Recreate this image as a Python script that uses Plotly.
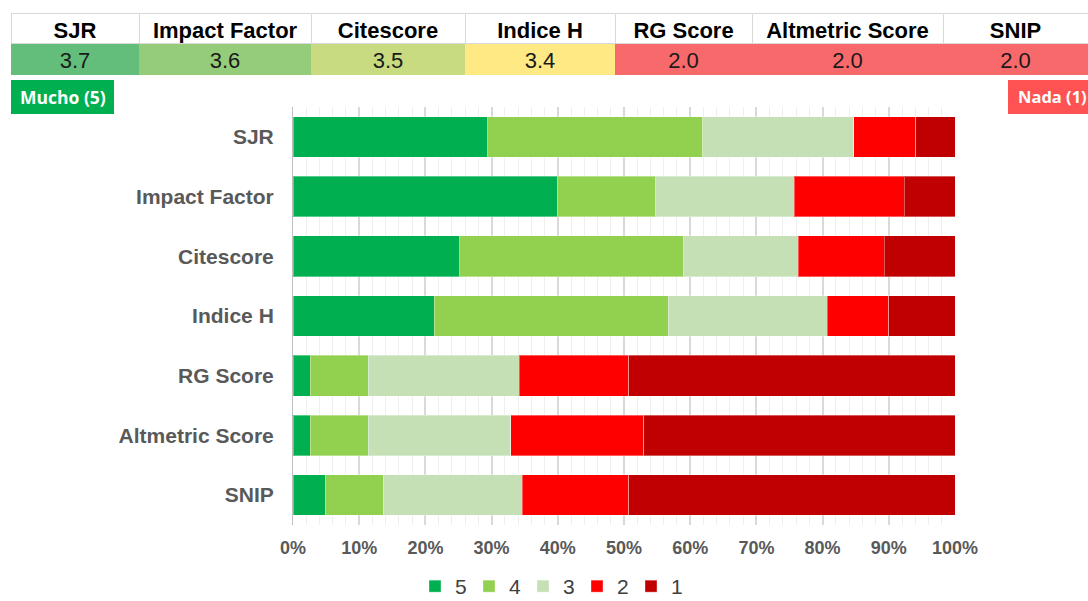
import plotly.graph_objects as go

W, H = 1088, 601


def px(xr):
    return xr / W


def py(yr):
    return 1 - yr / H


categories = ["SJR", "Impact Factor", "Citescore", "Indice H", "RG Score", "Altmetric Score", "SNIP"]
levels = ["5", "4", "3", "2", "1"]
level_colors = ["#00B050", "#92D050", "#C5E0B4", "#FF0000", "#C00000"]

# percentage shares per level
share_5 = [29.4, 39.9, 25.2, 21.3, 2.6, 2.6, 4.9]
share_4 = [32.5, 14.9, 33.8, 35.4, 8.8, 8.8, 8.7]
share_3 = [22.8, 20.9, 17.3, 24.0, 22.8, 21.5, 21.0]
share_2 = [9.4, 16.6, 13.0, 9.3, 16.5, 20.1, 16.1]
share_1 = [5.9, 7.7, 10.7, 10.0, 49.3, 47.0, 49.3]
shares = [share_5, share_4, share_3, share_2, share_1]

# summary table
table_headers = ["SJR", "Impact Factor", "Citescore", "Indice H", "RG Score", "Altmetric Score", "SNIP"]
table_means = ["3.7", "3.6", "3.5", "3.4", "2.0", "2.0", "2.0"]
table_colors = ["#63BE7B", "#95CC7A", "#C8DB80", "#FFE984", "#F8696B", "#F8696B", "#F8696B"]
table_widths = [128, 172, 154, 150, 137, 191, 145]

x_ticks = [0, 10, 20, 30, 40, 50, 60, 70, 80, 90, 100]
x_ticklabels = [f"{v}%" for v in x_ticks]

fig = go.Figure()

for lvl, col, vals in zip(levels, level_colors, shares):
    fig.add_trace(go.Bar(
        y=categories, x=vals, name=lvl, orientation="h",
        marker=dict(color=col, line=dict(color="rgba(255,255,255,0.35)", width=1)),
        hoverinfo="x+y+name",
    ))

fig.add_trace(go.Table(
    domain=dict(x=[px(11), 1.0], y=[py(76), py(13)]),
    columnwidth=table_widths,
    header=dict(
        values=table_headers,
        fill_color="white",
        line=dict(color="#D9D9D9", width=1),
        align="center",
        height=30,
        font=dict(family="Liberation Sans, Arial", size=22, color="black", weight="bold"),
    ),
    cells=dict(
        values=[[m] for m in table_means],
        fill_color=[[c] for c in table_colors],
        line=dict(color=[[c] for c in table_colors], width=1),
        align="center",
        height=31,
        font=dict(family="Liberation Sans, Arial", size=22, color="#1a1a1a"),
    ),
))

tick_font = dict(family="Liberation Sans, Arial", color="#595959", weight="bold")

fig.update_layout(
    width=W, height=H,
    margin=dict(l=0, r=0, t=0, b=0, autoexpand=False),
    paper_bgcolor="white", plot_bgcolor="white",
    barmode="stack", bargap=0.32,
    showlegend=True,
    legend=dict(
        orientation="h", x=px(550), xanchor="center", y=-6 / H, yanchor="bottom",
        font=dict(family="Liberation Sans, Arial", size=21, color="#404040"),
        traceorder="normal", itemwidth=30, entrywidth=9,
        tracegroupgap=0,
    ),
    xaxis=dict(
        domain=[px(293), px(955)], range=[0, 100],
        tickvals=x_ticks, ticktext=x_ticklabels,
        showgrid=True, gridcolor="#D9D9D9", gridwidth=1.5,
        minor=dict(dtick=2, showgrid=True, gridcolor="#EFEFEF", gridwidth=1),
        zeroline=False, showline=False, ticks="",
        ticklabelstandoff=10, automargin=False,
        tickfont=dict(size=18, **tick_font),
        fixedrange=True,
    ),
    yaxis=dict(
        domain=[py(525), py(107)],
        categoryorder="array", categoryarray=categories, autorange="reversed",
        showgrid=False, zeroline=False,
        showline=True, linecolor="#BFBFBF", linewidth=1,
        ticks="", ticklabelstandoff=14, automargin=False,
        tickfont=dict(size=21, **tick_font),
        fixedrange=True,
    ),
    shapes=[
        dict(type="rect", xref="paper", yref="paper", x0=px(11), x1=px(114),
             y0=py(114), y1=py(80), fillcolor="#00B050", line=dict(width=0), layer="above"),
        dict(type="rect", xref="paper", yref="paper", x0=px(1008), x1=px(1100),
             y0=py(114), y1=py(80), fillcolor="#FF5353", line=dict(width=0), layer="above"),
    ],
    annotations=[
        dict(text="Mucho (5)", xref="paper", yref="paper", x=px(18), y=py(97),
             xanchor="left", yanchor="middle", showarrow=False,
             font=dict(family="Open Sans", size=17.5, color="white", weight="bold")),
        dict(text="Nada (1)", xref="paper", yref="paper", x=px(1016), y=py(97),
             xanchor="left", yanchor="middle", showarrow=False,
             font=dict(family="Open Sans", size=16.5, color="white", weight="bold")),
    ],
)

fig.write_html(
    "out.html",
    config={"displayModeBar": False},
    post_script="document.body.style.margin='0';document.body.style.overflow='hidden';",
)
